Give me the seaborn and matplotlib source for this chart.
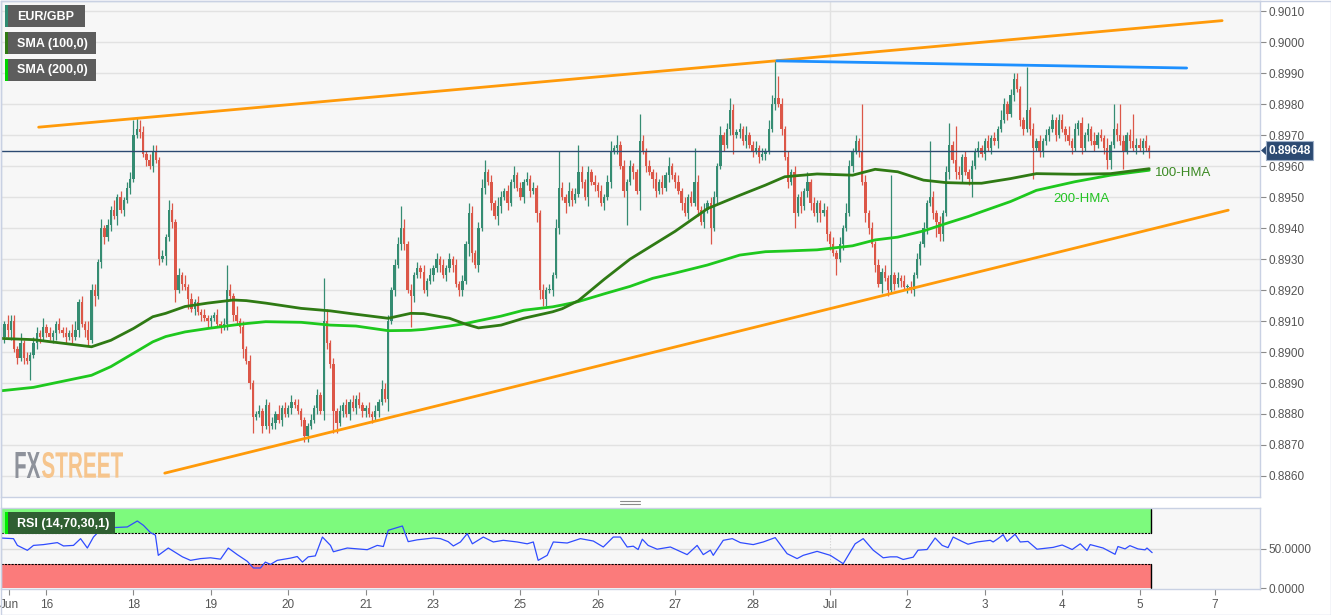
import matplotlib
matplotlib.use('Agg')

import numpy as np
import matplotlib.pyplot as plt
import matplotlib.transforms as mtransforms
from matplotlib.patches import Rectangle, Polygon, PathPatch
from matplotlib.lines import Line2D
from matplotlib.textpath import TextPath
from matplotlib.font_manager import FontProperties
from matplotlib.ticker import FormatStrFormatter
import seaborn as sns

# ------------------------
# Data: hourly EUR/GBP closes in pips (8905 -> 0.8905), one list per trading day
# hour 0 = Jun 18 00:00, weekends removed
# ------------------------
first_hour = -41
first_open = 8906

jun14 = [8905, 8909, 8907, 8910, 8901, 8898, 8903, 8898, 8897, 8899, 8903, 8906, 8905, 8908]
jun16 = [8906, 8905, 8906]
jun17 = [8909, 8907, 8906, 8905, 8906, 8905, 8907, 8916, 8909, 8907, 8904, 8920,
         8918, 8929, 8940, 8937, 8941, 8946, 8944, 8950, 8946, 8949, 8953, 8956]
jun18 = [8970, 8972, 8971, 8964, 8962, 8960, 8965, 8962, 8930, 8931, 8937, 8946,
         8942, 8920, 8925, 8922, 8921, 8917, 8914, 8916, 8913, 8912, 8911, 8910]
jun19 = [8911, 8912, 8909, 8908, 8909, 8920, 8918, 8912, 8910, 8908, 8901, 8897,
         8890, 8879, 8880, 8881, 8876, 8883, 8876, 8877, 8880, 8878, 8882, 8880]
jun20 = [8882, 8884, 8883, 8881, 8878, 8873, 8876, 8878, 8882, 8886, 8881, 8910,
         8903, 8896, 8881, 8877, 8881, 8883, 8880, 8884, 8882, 8885, 8883, 8881]
jun21 = [8882, 8880, 8879, 8881, 8884, 8888, 8885, 8910, 8920, 8928, 8935, 8940,
         8935, 8920, 8918, 8925, 8927, 8926, 8920, 8923, 8925]
jun23 = [8927, 8930, 8928]
jun24 = [8925, 8927, 8930, 8928, 8922, 8920, 8923, 8935, 8945, 8932, 8928, 8940,
         8953, 8958, 8955, 8948, 8944, 8947, 8950, 8952, 8948, 8955, 8957, 8953]
jun25 = [8950, 8955, 8956, 8952, 8953, 8945, 8920, 8917, 8920, 8920, 8925, 8940,
         8953, 8950, 8948, 8952, 8949, 8951, 8958, 8955, 8950, 8958, 8955, 8954]
jun26 = [8952, 8948, 8950, 8955, 8965, 8966, 8967, 8960, 8952, 8955, 8960, 8958,
         8952, 8968, 8965, 8960, 8958, 8956, 8952, 8955, 8953, 8957, 8960, 8957]
jun27 = [8955, 8952, 8948, 8945, 8950, 8948, 8955, 8946, 8942, 8946, 8948, 8940,
         8950, 8960, 8970, 8967, 8972, 8978, 8970, 8971, 8972, 8968, 8970, 8967]
jun28 = [8965, 8966, 8963, 8964, 8965, 8972, 8980, 8982, 8980, 8972, 8963, 8955,
         8958, 8945, 8950, 8947, 8952, 8955, 8948, 8945, 8948]
jun30 = [8945, 8946, 8938]
jul1 = [8935, 8932, 8930, 8935, 8940, 8945, 8960, 8965, 8968, 8965, 8955, 8945,
        8940, 8935, 8928, 8922, 8926, 8924, 8920, 8925, 8922, 8924, 8923, 8921]
jul2 = [8921, 8920, 8925, 8930, 8935, 8940, 8948, 8950, 8945, 8942, 8938, 8945,
        8958, 8967, 8962, 8958, 8957, 8963, 8958, 8956, 8960, 8965, 8966, 8964]
jul3 = [8968, 8966, 8969, 8968, 8972, 8975, 8980, 8977, 8983, 8988, 8985, 8975,
        8972, 8978, 8972, 8966, 8968, 8965, 8968, 8970, 8972, 8975, 8970, 8975]
jul4 = [8972, 8970, 8968, 8966, 8972, 8974, 8966, 8970, 8972, 8968, 8967, 8970,
        8969, 8966, 8962, 8967, 8972, 8970, 8968, 8965, 8970, 8968, 8966, 8967]
jul5 = [8966, 8968, 8966, 8964.8]

# wick lengths in pips above / below the body, one base-36 digit per candle
wick_up = ["213221 312122 13", "121",
           "121213 312132 213121 312122", "543212 221213 212131 212121",
           "112128 213121 211212 121312", "121211 12121e 412121 212121",
           "121213 221227 312121 212", "121",
           "212121 213212 341213 212131", "212121 121213 c21312 921212",
           "121231 312121 192121 212131", "121212 b21212 213124 212131",
           "121213 3c7212 121213 121", "121",
           "121213 2121f2 121212 1w1212", "121212 1i2121 271b21 212121",
           "121213 212221 1e1212 121212", "213121 212131 213182 a21292", "2121"]
wick_dn = ["122312 121612 21", "112",
           "211212 121221 312212 131212", "112121 212131 241213 121212",
           "211212 121231 251121 212121", "121122 211213 217312 121212",
           "212121 141212 21a212 121", "212",
           "121212 214312 121213 212121", "121213 322121 213121 121312",
           "212121 212b12 161213 212121", "212121 121215 121212 612121",
           "212121 121212 151212 213", "312",
           "215121 121213 212131 212121", "212121 212522 121212 126121",
           "212121 121212 212a12 212121", "121212 212121 123312 161212", "1212"]

# moving averages (pips)
ma_hours = [-41, -31, -13, -7, 0, 6, 10, 16, 23, 31, 35, 41, 52, 61, 69, 79, 86, 90,
            98, 103, 107, 114, 121, 130, 133, 138, 146, 154, 161, 168, 178, 188, 196,
            202, 212, 223, 230, 237, 245, 252, 259, 263, 272, 280, 292, 303, 315]
sma100 = [8904.4, 8904.0, 8901.7, 8903.8, 8907.6, 8911.4, 8912.5, 8914.7, 8915.8, 8916.8,
          8916.6, 8915.8, 8914.1, 8913.3, 8912.2, 8910.9, 8912.5, 8912.4, 8910.9, 8909.0,
          8907.8, 8908.7, 8910.9, 8913.0, 8914.0, 8916.6, 8923.5, 8930.0, 8934.5, 8939.0,
          8946.3, 8950.6, 8953.9, 8956.6, 8957.5, 8957.1, 8959.0, 8958.2, 8955.5, 8954.7,
          8954.5, 8954.5, 8956.0, 8957.6, 8957.4, 8957.6, 8959.2]
sma200 = [8887.5, 8888.6, 8892.5, 8895.3, 8899.6, 8903.3, 8905.0, 8906.5, 8907.6, 8908.7,
          8909.2, 8909.8, 8909.6, 8908.7, 8908.4, 8906.9, 8907.0, 8907.3, 8908.4, 8909.2,
          8910.1, 8911.6, 8913.5, 8914.6, 8915.2, 8916.3, 8918.8, 8921.2, 8923.8, 8925.5,
          8928.1, 8931.3, 8932.4, 8932.6, 8933.0, 8934.3, 8936.2, 8937.1, 8939.1, 8941.5,
          8943.8, 8945.3, 8948.6, 8952.2, 8955.0, 8957.1, 8958.7]

# drawn trend lines (hour, pips)
upper_line_h, upper_line_p = [-29.4, 337.6], [8972.6, 9007.0]
top_line_h, top_line_p = [199.5, 326.6], [8994.0, 8991.7]
lower_line_h, lower_line_p = [9.7, 339.5], [8860.9, 8945.8]

# RSI (14)
rsi_hours = [-41.2, -37.2, -36, -32.9, -31, -27.9, -23.6, -21.7, -18.6, -16.4, -14.3, -12.4,
             -10.2, -6.2, -1.9, 1.2, 3.1, 5.3, 6.8, 7.7, 10.8, 13.6, 15.2, 17.7, 20.8, 23.9,
             27, 29.4, 32.2, 35.3, 37.2, 39.4, 40.9, 42.5, 44.6, 48.7, 50.8, 52.4, 54.2, 56.4,
             58.6, 61.1, 62, 66.3, 72.5, 75.6, 77.5, 79, 83.4, 85.2, 88, 93, 95.2, 97.6, 99.2,
             101.4, 103.5, 105.1, 108.5, 111.6, 114.7, 119, 122.1, 124, 125.5, 128.3, 130.2,
             134.5, 138.6, 142.6, 145.7, 148.8, 151, 153.1, 155, 156.5, 157.8, 159.6, 162.4,
             166.5, 171.7, 174.8, 176.7, 178.9, 179.8, 182.9, 185.7, 188.2, 192.2, 195.3, 199,
             202.7, 205.8, 207.7, 212, 216.1, 220.1, 223.8, 226.3, 229.4, 232.5, 234.7, 236.8,
             238.7, 241.8, 243.3, 246.1, 248.6, 250.8, 252.6, 254.2, 257.3, 258.8, 261.6,
             265.7, 266.6, 268.1, 269.7, 270.9, 273.4, 275, 277.4, 280.2, 283.3, 285.2, 288,
             291.1, 293.6, 295.7, 296.7, 300.7, 304.4, 305.3, 307.5, 309, 311.5, 313.7, 314.3,
             315.9]
rsi_values = [63.3, 62.5, 54, 47.8, 54, 55, 57.5, 53.3, 54, 62.5, 50.7, 64.5,
              73.8, 76.4, 77.2, 84.7, 79.2, 70, 67, 41.5, 50.7, 43.6, 39.6, 35.2, 37.4, 38.4,
              36.7, 50.7, 42.4, 34, 25.6, 25.6, 33, 30.1, 35.2, 38, 40, 33, 39.6, 40.8,
              64.5, 54, 46, 50.7, 48.6, 54, 52.6, 73, 78.4, 58.7, 61, 63.3, 62.5, 58.7, 53.3,
              58.3, 68.8, 56, 64.5, 58.3, 60.4, 58.3, 56, 58.3, 35.2, 41.5, 58.3,
              57, 62.5, 59.5, 52, 64.5, 64.5, 52, 53, 48.8, 61.8, 54, 49.2,
              52, 42.4, 54, 42.4, 48, 41.5, 60.4, 62.5, 57.5, 55, 58.3, 63.8,
              43.6, 37.4, 41.5, 46.5, 41.5, 31, 56, 62.5, 48, 38.4, 39.6, 39.6,
              36.3, 39.2, 48, 48.8, 63.3, 54, 51.2, 64.5, 58.3, 55.5, 58.3,
              60.4, 58.3, 62.5, 67.5, 59, 68, 58.3, 59, 49.2, 50.7, 51.5, 54.5,
              48.8, 56, 47.6, 55, 50.7, 42.8, 52.6, 49.6, 53.7, 49.6, 48.4, 50.7,
              44.9]

price_ticks = [0.8860, 0.8870, 0.8880, 0.8890, 0.8900, 0.8910, 0.8920, 0.8930,
               0.8940, 0.8950, 0.8960, 0.8970, 0.8980, 0.8990, 0.9000, 0.9010]
date_ticks = [-38.6, -27, 0, 24, 48, 72, 93, 120, 144, 168, 192, 216, 240, 264, 288, 312, 335.4]
date_labels = ['Jun', '16', '18', '19', '20', '21', '23', '25', '26', '27', '28',
               'Jul', '2', '3', '4', '5', '7']
last_price = 0.89648

# ------------------------
# Build OHLC
# ------------------------
closes = np.array(jun14 + jun16 + jun17 + jun18 + jun19 + jun20 + jun21 + jun23 + jun24 +
                  jun25 + jun26 + jun27 + jun28 + jun30 + jul1 + jul2 + jul3 + jul4 + jul5) / 1e4
up_w = np.array([int(ch, 36) for ch in ''.join(wick_up).replace(' ', '')]) / 1e4
dn_w = np.array([int(ch, 36) for ch in ''.join(wick_dn).replace(' ', '')]) / 1e4
assert len(up_w) == len(closes) == len(dn_w), (len(up_w), len(closes), len(dn_w))
hours = np.arange(first_hour, first_hour + len(closes))
opens = np.r_[first_open / 1e4, closes[:-1]]
highs = np.maximum(opens, closes) + up_w
lows = np.minimum(opens, closes) - dn_w

GREEN, RED = '#358c72', '#dc5748'
colors = np.where(closes >= opens, GREEN, RED)

# ------------------------
# Figure
# ------------------------
sns.set_theme(style='white')
plt.rcParams['font.family'] = ['Liberation Sans', 'DejaVu Sans']

W, H = 1331, 615
fig = plt.figure(figsize=(W / 100, H / 100), dpi=100)
fig.patch.set_facecolor('white')
px = mtransforms.Affine2D().scale(1 / W, -1 / H).translate(0, 1) + fig.transFigure


def axes_box(x0, y0, x1, y1):
    return [x0 / W, 1 - y1 / H, (x1 - x0) / W, (y1 - y0) / H]


x_left, x_right = -41.23, 349.35
rsi_end = 315.6
SPINE = '#c9d1e3'

ax = fig.add_axes(axes_box(0.5, 0.5, 1260, 497))
rax = fig.add_axes(axes_box(0.5, 507.7, 1260, 589.3))

# main price panel
ax.set_facecolor('#f7f7f7')
for y in price_ticks:
    ax.axhline(y, color='#e2e2e2', lw=1, zorder=0)
ax.axvline(216, color='#e2e2e2', lw=1, zorder=0)

ax.vlines(hours, lows, highs, colors=colors, lw=0.9, zorder=2)
body = np.maximum(np.abs(closes - opens), 0.00003)
ax.bar(hours, body, bottom=np.minimum(opens, closes), width=0.72, color=colors, lw=0, zorder=3)

ma_h = np.array(ma_hours)
sns.lineplot(x=ma_h, y=np.array(sma200) / 1e4, ax=ax, color='#1ec81e', lw=2, zorder=4)
sns.lineplot(x=ma_h, y=np.array(sma100) / 1e4, ax=ax, color='#2f7a14', lw=2, zorder=4)

sns.lineplot(x=upper_line_h, y=np.array(upper_line_p) / 1e4, ax=ax, color='#ff9a0a', lw=2, zorder=5)
sns.lineplot(x=lower_line_h, y=np.array(lower_line_p) / 1e4, ax=ax, color='#ff9a0a', lw=2, zorder=5)
sns.lineplot(x=top_line_h, y=np.array(top_line_p) / 1e4, ax=ax, color='#1e90ff', lw=2, zorder=5)

ax.axhline(last_price, color='#2c4a72', lw=1, zorder=6)

ax.set_xlim(x_left, x_right)
ax.set_ylim(0.88532, 0.90135)
ax.set_xticks([])
ax.set_yticks(price_ticks)
ax.yaxis.tick_right()
ax.yaxis.set_major_formatter(FormatStrFormatter('%.4f'))
ax.tick_params(axis='y', right=True, length=4, width=0.8, color='#8a8a8a',
               labelcolor='#555555', labelsize=8.5, pad=2)
ax.set_xlabel('')
ax.set_ylabel('')
for s in ax.spines.values():
    s.set_color(SPINE)
    s.set_linewidth(1)

ax.text(1155, 173, '100-HMA', transform=px, color='#3c8a24', fontsize=9.5, va='center')
ax.text(1053, 199, '200-HMA', transform=px, color='#22c322', fontsize=9.5, va='center')

# RSI panel
rax.set_facecolor('#f7f7f7')
rax.fill_between([x_left, rsi_end], 70, 100, color='#7dfa7d', lw=0, zorder=1)
rax.fill_between([x_left, rsi_end], 0, 30, color='#fb7b7b', lw=0, zorder=1)
for lvl in (70, 30):
    rax.plot([x_left, rsi_end], [lvl, lvl], color='black', lw=0.8, ls=(0, (2, 1)), zorder=2)
rax.plot([rsi_end, rsi_end], [70, 100], color='black', lw=1, zorder=2)
rax.plot([rsi_end, rsi_end], [0, 30], color='black', lw=1, zorder=2)
rax.axhline(50, color='#dcdcdc', lw=1, zorder=0)
rax.axvline(216, color='#cfcfcf', lw=0.8, ls=':', zorder=0)
sns.lineplot(x=rsi_hours, y=rsi_values, ax=rax, color='#2f4cff', lw=0.9, zorder=3)

rax.set_xlim(x_left, x_right)
rax.set_ylim(-1.2, 101.4)
rax.set_yticks([0, 50])
rax.set_yticklabels(['0.0000', '50.0000'])
rax.yaxis.tick_right()
rax.set_xticks(date_ticks)
rax.set_xticklabels(date_labels)
rax.tick_params(axis='both', length=4, width=0.8, color='#8a8a8a',
                labelcolor='#555555', labelsize=8.5, pad=2)
rax.tick_params(axis='x', bottom=True, pad=3)
rax.tick_params(axis='y', right=True)
rax.set_xlabel('')
rax.set_ylabel('')
for s in rax.spines.values():
    s.set_color(SPINE)
    s.set_linewidth(1)


# ------------------------
# Overlay labels (pixel coordinates)
# ------------------------
def tag(x0, y0, x1, y1, text, stripe, face='#5d5d5d'):
    fig.add_artist(Rectangle((x0, y0), x1 - x0, y1 - y0, transform=px,
                             facecolor=face, edgecolor='none', zorder=10))
    fig.add_artist(Rectangle((x0, y0), 3, y1 - y0, transform=px,
                             facecolor=stripe, edgecolor='none', zorder=11))
    fig.text(x0 + 12, (y0 + y1) / 2 + 0.5, text, transform=px, color='white',
             fontsize=9, fontweight='bold', va='center', zorder=12)


tag(5, 5, 85, 27, 'EUR/GBP', '#2e8b72')
tag(5, 32, 96, 54, 'SMA (100,0)', '#2f7a14')
tag(5, 59, 96, 81, 'SMA (200,0)', '#00d400')
tag(5, 512, 115, 534, 'RSI (14,70,30,1)', '#00ee00', face='#2f5f32')

# last price tag
fig.add_artist(Polygon([[1261, 150.5], [1266, 146], [1266, 155]], closed=True, transform=px,
                       facecolor='#2c4a72', edgecolor='none', zorder=10))
fig.add_artist(Rectangle((1266, 141), 47, 19, transform=px, facecolor='#2c4a72',
                         edgecolor='#9fb0c8', lw=0.8, zorder=10))
fig.text(1289.5, 151, f'{last_price:.5f}', transform=px, color='white', fontsize=8.5,
         fontweight='bold', ha='center', va='center', zorder=11)


# FXSTREET watermark: condensed bold letters squeezed into the logo box
def logo_word(text, x0, x1, y_base, cap_h, color):
    tp = TextPath((0, 0), text, size=100,
                  prop=FontProperties(family='Liberation Sans', weight='bold'))
    ext = tp.get_extents()
    tr = (mtransforms.Affine2D().translate(-ext.x0, -ext.y0)
          .scale((x1 - x0) / ext.width, -cap_h / ext.height)
          .translate(x0, y_base) + px)
    fig.add_artist(PathPatch(tp, transform=tr, facecolor=color, edgecolor='none', zorder=5))


logo_word('FX', 15.5, 40, 478, 26, '#8e929b')
logo_word('STREET', 42, 123, 478, 26, '#f6c58d')

# panel splitter handle and outer frame
for yy in (501, 503.5):
    fig.add_artist(Line2D([620, 640], [yy, yy], transform=px, color='#8a8a8a', lw=0.8))
fig.add_artist(Rectangle((0.5, 0.5), W - 1, H - 1, transform=px, fill=False,
                         edgecolor=SPINE, lw=1, zorder=20))

fig.savefig('out.png', dpi=100)
plt.close(fig)
